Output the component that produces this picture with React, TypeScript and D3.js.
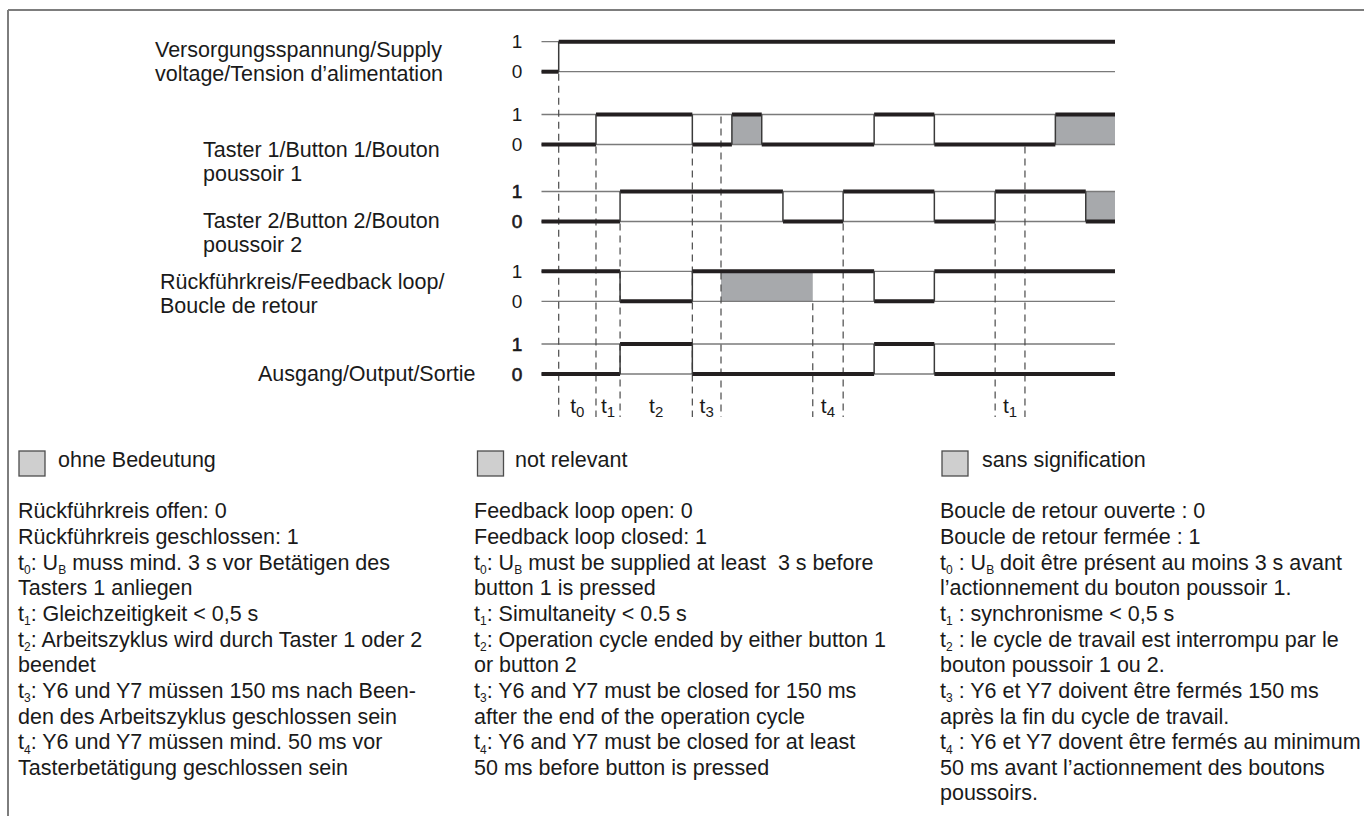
import React from "react";
import * as d3 from "d3";

// ---------- DATA ----------
const rowLabels: string[][] = [
  ["Versorgungsspannung/Supply", "voltage/Tension d’alimentation"],
  ["Taster 1/Button 1/Bouton", "poussoir 1"],
  ["Taster 2/Button 2/Bouton", "poussoir 2"],
  ["Rückführkreis/Feedback loop/", "Boucle de retour"],
  ["Ausgang/Output/Sortie"],
];
const levelLabels = ["1", "0"];

const timeEnd = 100;
// times at which each signal changes, and the level after each change
const supplyTimes = [0, 3];
const supplyLevels = [0, 1];
const taster1Times = [0, 9.5, 26.3, 33.2, 38.4, 58, 68.5, 89.6];
const taster1Levels = [0, 1, 0, 1, 0, 1, 0, 1];
const taster1Shaded = [[33.2, 38.4], [89.6, 100]];
const taster2Times = [0, 13.7, 42.1, 52.6, 68.5, 79.1, 94.9];
const taster2Levels = [0, 1, 0, 1, 0, 1, 0];
const taster2Shaded = [[94.9, 100]];
const feedbackTimes = [0, 13.7, 26.3, 58, 68.5];
const feedbackLevels = [1, 0, 1, 0, 1];
const feedbackShaded = [[31.3, 47.3]];
const outputTimes = [0, 13.7, 26.3, 58, 68.5];
const outputLevels = [0, 1, 0, 1, 0];

// dashed reference lines: time, row where it starts, level where it starts
const markerTimes = [3, 9.5, 13.7, 26.3, 31.3, 47.3, 52.6, 79.1, 84.3];
const markerRows = [0, 1, 2, 1, 1, 3, 2, 2, 1];
const markerLevels = [0, 0, 0, 0, 1, 0, 0, 0, 0];

// period labels t_n between two times
const periodSubs = ["0", "1", "2", "3", "4", "1"];
const periodFrom = [3, 9.5, 13.7, 26.3, 47.3, 79.1];
const periodTo = [9.5, 13.7, 26.3, 31.3, 52.6, 84.3];

const legendTexts = ["ohne Bedeutung", "not relevant", "sans signification"];

// "_X" marks a one-character subscript
const germanLines = [
  "Rückführkreis offen: 0",
  "Rückführkreis geschlossen: 1",
  "t_0: U_B muss mind. 3 s vor Betätigen des",
  "Tasters 1 anliegen",
  "t_1: Gleichzeitigkeit < 0,5 s",
  "t_2: Arbeitszyklus wird durch Taster 1 oder 2",
  "beendet",
  "t_3: Y6 und Y7 müssen 150 ms nach Been-",
  "den des Arbeitszyklus geschlossen sein",
  "t_4: Y6 und Y7 müssen mind. 50 ms vor",
  "Tasterbetätigung geschlossen sein",
];
const englishLines = [
  "Feedback loop open: 0",
  "Feedback loop closed: 1",
  "t_0: U_B must be supplied at least  3 s before",
  "button 1 is pressed",
  "t_1: Simultaneity < 0.5 s",
  "t_2: Operation cycle ended by either button 1",
  "or button 2",
  "t_3: Y6 and Y7 must be closed for 150 ms",
  "after the end of the operation cycle",
  "t_4: Y6 and Y7 must be closed for at least",
  "50 ms before button is pressed",
];
const frenchLines = [
  "Boucle de retour ouverte : 0",
  "Boucle de retour fermée : 1",
  "t_0 : U_B doit être présent au moins 3 s avant",
  "l’actionnement du bouton poussoir 1.",
  "t_1 : synchronisme < 0,5 s",
  "t_2 : le cycle de travail est interrompu par le",
  "bouton poussoir 1 ou 2.",
  "t_3 : Y6 et Y7 doivent être fermés 150 ms",
  "après la fin du cycle de travail.",
  "t_4 : Y6 et Y7 dovent être fermés au minimum",
  "50 ms avant l’actionnement des boutons",
  "poussoirs.",
];

// ---------- LAYOUT ----------
const W = 1364;
const H = 816;
const FONT = "'Liberation Sans', Arial, Helvetica, sans-serif";
const FS = 21.5;
const rowHighY = [41.7, 114.5, 191.5, 271.3, 344];
const rowGap = 30;
const labelX = [155, 203, 203, 160, 258];
const labelBase = [57, 156.5, 228.3, 289, 381];
const labelPitch = 24;
const boldDigits = [false, false, true, false, true];

const x = d3.scaleLinear().domain([0, timeEnd]).range([541.5, 1115]);
const rowY = rowHighY.map((hy) =>
  d3.scaleLinear().domain([0, 1]).range([hy + rowGap, hy])
);

const signals = [
  { times: supplyTimes, levels: supplyLevels, shaded: [] as number[][] },
  { times: taster1Times, levels: taster1Levels, shaded: taster1Shaded },
  { times: taster2Times, levels: taster2Levels, shaded: taster2Shaded },
  { times: feedbackTimes, levels: feedbackLevels, shaded: feedbackShaded },
  { times: outputTimes, levels: outputLevels, shaded: [] as number[][] },
];

const THICK = "#231f20";
const THIN = "#7a7a7a";
const GRAY = "#a7a9ac";

function RichText({ text, x, y, size, subSize }: { text: string; x: number; y: number; size: number; subSize: number }) {
  // split into runs: {s, sub}
  const runs: { s: string; sub: boolean }[] = [];
  let buf = "";
  for (let i = 0; i < text.length; i++) {
    if (text[i] === "_" && i + 1 < text.length) {
      if (buf) runs.push({ s: buf, sub: false });
      buf = "";
      runs.push({ s: text[i + 1], sub: true });
      i++;
    } else buf += text[i];
  }
  if (buf) runs.push({ s: buf, sub: false });
  const SH = 4.5;
  return (
    <text x={x} y={y} fontSize={size} fontFamily={FONT} fill="#1a1a1a" style={{ whiteSpace: "pre" }}>
      {runs.map((r, k) => {
        const prevSub = k > 0 && runs[k - 1].sub;
        let dy = 0;
        if (r.sub && !prevSub) dy = SH;
        else if (!r.sub && prevSub) dy = -SH;
        return (
          <tspan key={k} dy={dy} fontSize={r.sub ? subSize : size}>
            {r.s}
          </tspan>
        );
      })}
    </text>
  );
}

export default function App() {
  const bodyBase = 518.3;
  const bodyPitch = 25.65;
  const columns = [
    { lines: germanLines, x: 18 },
    { lines: englishLines, x: 474 },
    { lines: frenchLines, x: 940 },
  ];
  const legendBoxX = [19, 477.5, 942];
  const legendTextX = [58, 515, 982];
  const dashBottom = 417;

  return (
    <svg
      width={W}
      height={H}
      style={{ position: "absolute", left: 0, top: 0, background: "#fff" }}
    >
      <rect x={0} y={0} width={W} height={H} fill="#fff" />
      {/* frame */}
      <line x1={8} y1={10} x2={W} y2={10} stroke="#7d7d7d" strokeWidth={2} />
      <line x1={8} y1={10} x2={8} y2={H} stroke="#7d7d7d" strokeWidth={2} />

      {/* row labels */}
      {rowLabels.map((lines, r) => (
        <g key={"rl" + r}>
          {lines.map((ln, j) => (
            <text key={j} x={labelX[r]} y={labelBase[r] + j * labelPitch} fontSize={FS} fontFamily={FONT} fill="#1a1a1a">
              {ln}
            </text>
          ))}
        </g>
      ))}

      {/* shaded "not relevant" regions */}
      {signals.map((s, r) =>
        s.shaded.map((iv, j) => (
          <rect
            key={"sh" + r + "-" + j}
            x={x(iv[0])}
            y={rowY[r](1)}
            width={x(iv[1]) - x(iv[0])}
            height={rowY[r](0) - rowY[r](1)}
            fill={GRAY}
          />
        ))
      )}

      {/* thin level lines and level labels */}
      {signals.map((s, r) => (
        <g key={"lv" + r}>
          {[1, 0].map((lv) => (
            <line key={lv} x1={x(0)} x2={x(timeEnd)} y1={rowY[r](lv)} y2={rowY[r](lv)} stroke={THIN} strokeWidth={1.3} />
          ))}
          {levelLabels.map((lb) => (
            <text
              key={lb}
              x={517}
              y={rowY[r](+lb) + 6.5}
              fontSize={19}
              textAnchor="middle"
              fontFamily={FONT}
              fill="#1a1a1a"
              stroke={boldDigits[r] ? "#1a1a1a" : "none"}
              strokeWidth={0.6}
            >
              {lb}
            </text>
          ))}
        </g>
      ))}

      {/* dashed markers */}
      {markerTimes.map((t, i) => (
        <line
          key={"mk" + i}
          x1={x(t)}
          x2={x(t)}
          y1={rowY[markerRows[i]](markerLevels[i]) + 2}
          y2={dashBottom}
          stroke="#4a4a4a"
          strokeWidth={1.2}
          strokeDasharray="7,5"
        />
      ))}

      {/* waveforms */}
      {signals.map((s, r) => (
        <g key={"wf" + r}>
          {s.times.map((t, i) => {
            const tEnd = i + 1 < s.times.length ? s.times[i + 1] : timeEnd;
            return (
              <line
                key={"h" + i}
                x1={x(t)}
                x2={x(tEnd)}
                y1={rowY[r](s.levels[i])}
                y2={rowY[r](s.levels[i])}
                stroke={THICK}
                strokeWidth={4}
              />
            );
          })}
          {s.times.slice(1).map((t, i) => (
            <line
              key={"v" + i}
              x1={x(t)}
              x2={x(t)}
              y1={rowY[r](0)}
              y2={rowY[r](1)}
              stroke="#3a3a3a"
              strokeWidth={1.5}
            />
          ))}
        </g>
      ))}

      {/* period labels */}
      {periodSubs.map((sub, i) => {
        const cx = (x(periodFrom[i]) + x(periodTo[i])) / 2;
        return (
          <text key={"pl" + i} x={cx} y={413} fontSize={21} fontFamily={FONT} textAnchor="middle" fill="#1a1a1a">
            <tspan>t</tspan>
            <tspan dy={4} fontSize={15}>{sub}</tspan>
          </text>
        );
      })}

      {/* legends */}
      {legendTexts.map((lt, i) => (
        <g key={"lg" + i}>
          <rect x={legendBoxX[i]} y={451} width={26} height={25} fill="#cfcfcf" stroke="#4d4d4d" strokeWidth={1.3} />
          <text x={legendTextX[i]} y={466.7} fontSize={FS} fontFamily={FONT} fill="#1a1a1a">
            {lt}
          </text>
        </g>
      ))}

      {/* explanation columns */}
      {columns.map((c, ci) =>
        c.lines.map((ln, j) => (
          <RichText key={"c" + ci + "-" + j} text={ln} x={c.x} y={bodyBase + j * bodyPitch} size={FS} subSize={12} />
        ))
      )}
    </svg>
  );
}
